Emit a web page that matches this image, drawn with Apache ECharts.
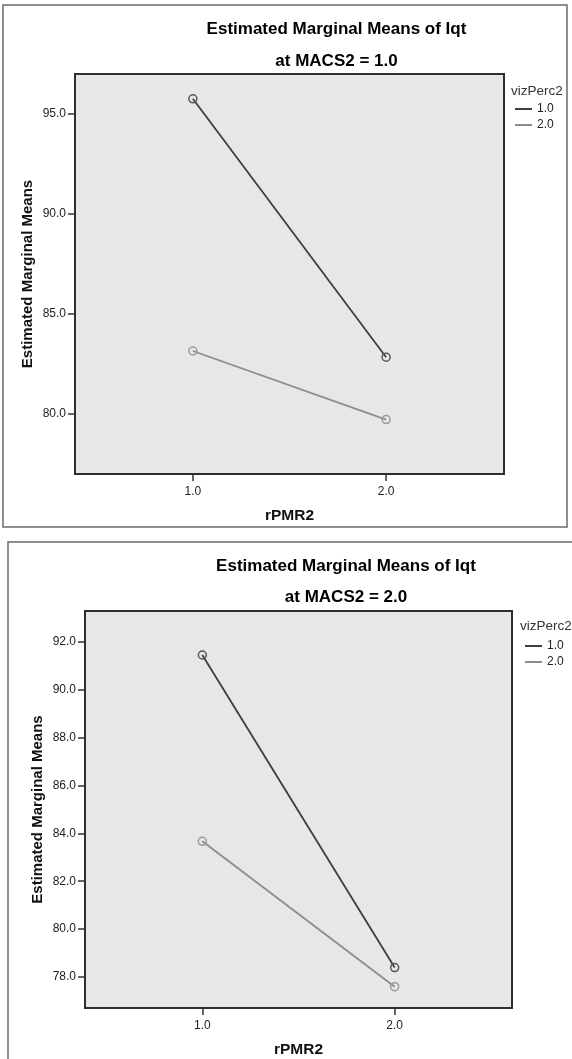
<!DOCTYPE html>
<html>
<head>
<meta charset="utf-8">
<title>Estimated Marginal Means of Iqt</title>
<script src="https://cdn.jsdelivr.net/npm/echarts@6.0.0/dist/echarts.min.js"></script>
<style>
  html, body { margin: 0; padding: 0; background: #fff; }
  #main { width: 572px; height: 1059px; }
</style>
</head>
<body>
<div id="main"></div>
<script>
// data
var rPMR2 = [1, 2];
var vizLevels = ["1.0", "2.0"];
var macs1Viz1 = [95.76, 82.84];
var macs1Viz2 = [83.15, 79.72];
var macs2Viz1 = [91.46, 78.39];
var macs2Viz2 = [83.67, 77.59];
var xTicks = [1, 2];
var yTicksTop = [80, 85, 90, 95];
var yTicksBottom = [78, 80, 82, 84, 86, 88, 90, 92];

var FONT = "Liberation Sans, Arial, sans-serif";
var darkLine = "#3e3e3e";
var greyLine = "#8c8c8c";
var darkDot = "#555555";
var greyDot = "#9a9a9a";

function pairs(vals) {
  return rPMR2.map(function (x, i) { return [x, vals[i]]; });
}

function fmt(v) { return Number(v).toFixed(1); }

function xAxis(gridIndex) {
  return {
    type: "value",
    gridIndex: gridIndex,
    min: 0.39,
    max: 2.61,
    name: "rPMR2",
    nameLocation: "middle",
    nameGap: 34,
    nameMoveOverlap: false,
    nameTextStyle: { fontFamily: FONT, fontWeight: "bold", fontSize: 15.5, color: "#111" },
    axisLine: { show: false },
    axisTick: { show: true, length: 7, customValues: xTicks, lineStyle: { color: "#333", width: 1.5 } },
    axisLabel: { customValues: xTicks, formatter: fmt, margin: 12, fontFamily: FONT, fontSize: 12, color: "#222" },
    splitLine: { show: false }
  };
}

function yAxis(gridIndex, min, max, ticks) {
  return {
    type: "value",
    gridIndex: gridIndex,
    min: min,
    max: max,
    name: "Estimated Marginal Means",
    nameLocation: "middle",
    nameGap: 40,
    nameMoveOverlap: false,
    nameTextStyle: { fontFamily: FONT, fontWeight: "bold", fontSize: 15, color: "#111" },
    axisLine: { show: false },
    axisTick: { show: true, length: 7, customValues: ticks, lineStyle: { color: "#333", width: 1.5 } },
    axisLabel: { customValues: ticks, formatter: fmt, margin: 9, fontFamily: FONT, fontSize: 12, color: "#222" },
    splitLine: { show: false }
  };
}

function lineSeries(name, idx, vals, lineColor, dotColor) {
  return {
    name: name,
    type: "line",
    xAxisIndex: idx,
    yAxisIndex: idx,
    data: pairs(vals),
    symbol: "circle",
    symbolSize: 8,
    lineStyle: { color: lineColor, width: 1.8 },
    itemStyle: { color: "rgba(0,0,0,0)", borderColor: dotColor, borderWidth: 1.5 },
    emphasis: { disabled: true },
    z: idx + 3
  };
}

function legend(left, top) {
  return {
    orient: "vertical",
    left: left,
    top: top,
    icon: "rect",
    itemWidth: 17,
    itemHeight: 2,
    itemGap: 2,
    padding: 0,
    selectedMode: false,
    textStyle: { fontFamily: FONT, fontSize: 12, color: "#222", lineHeight: 14 },
    data: [
      { name: vizLevels[0], itemStyle: { color: darkLine, borderWidth: 0 } },
      { name: vizLevels[1], itemStyle: { color: greyLine, borderWidth: 0 } }
    ]
  };
}

function text(str, x, y, size, bold, align) {
  return {
    type: "text",
    x: x,
    y: y,
    style: {
      text: str,
      fontFamily: FONT,
      fontSize: size,
      fontWeight: bold ? "bold" : "normal",
      fill: bold ? "#000" : "#333",
      align: align,
      verticalAlign: "middle"
    }
  };
}

var chart = echarts.init(document.getElementById("main"));

chart.setOption({
  backgroundColor: "#fff",
  animation: false,
  grid: [
    { left: 75, top: 74, width: 429, height: 400, show: true, backgroundColor: "#e7e7e7", borderColor: "#2e2e2e", borderWidth: 2 },
    { left: 85, top: 611, width: 427, height: 400, show: true, backgroundColor: "#e7e7e7", borderColor: "#2e2e2e", borderWidth: 2 }
  ],
  xAxis: [xAxis(0), xAxis(1)],
  yAxis: [yAxis(0, 77, 97, yTicksTop), yAxis(1, 76.7, 93.3, yTicksBottom)],
  legend: [legend(515, 102), legend(525, 639)],
  series: [
    lineSeries(vizLevels[0], 0, macs1Viz1, darkLine, darkDot),
    lineSeries(vizLevels[1], 0, macs1Viz2, greyLine, greyDot),
    lineSeries(vizLevels[0], 1, macs2Viz1, darkLine, darkDot),
    lineSeries(vizLevels[1], 1, macs2Viz2, greyLine, greyDot)
  ],
  graphic: [
    { type: "rect", shape: { x: 3, y: 5, width: 564, height: 522 }, style: { fill: "none", stroke: "#6a6a6a", lineWidth: 1.5 }, z: 0 },
    { type: "rect", shape: { x: 8, y: 542, width: 620, height: 600 }, style: { fill: "none", stroke: "#6a6a6a", lineWidth: 1.5 }, z: 0 },
    text("Estimated Marginal Means of Iqt", 336.5, 29, 17, true, "center"),
    text("at MACS2 = 1.0", 336.5, 61, 17, true, "center"),
    text("vizPerc2", 511, 91, 13.5, false, "left"),
    text("Estimated Marginal Means of Iqt", 346, 566, 17, true, "center"),
    text("at MACS2 = 2.0", 346, 597, 17, true, "center"),
    text("vizPerc2", 520, 626, 13.5, false, "left")
  ]
});
</script>
</body>
</html>
